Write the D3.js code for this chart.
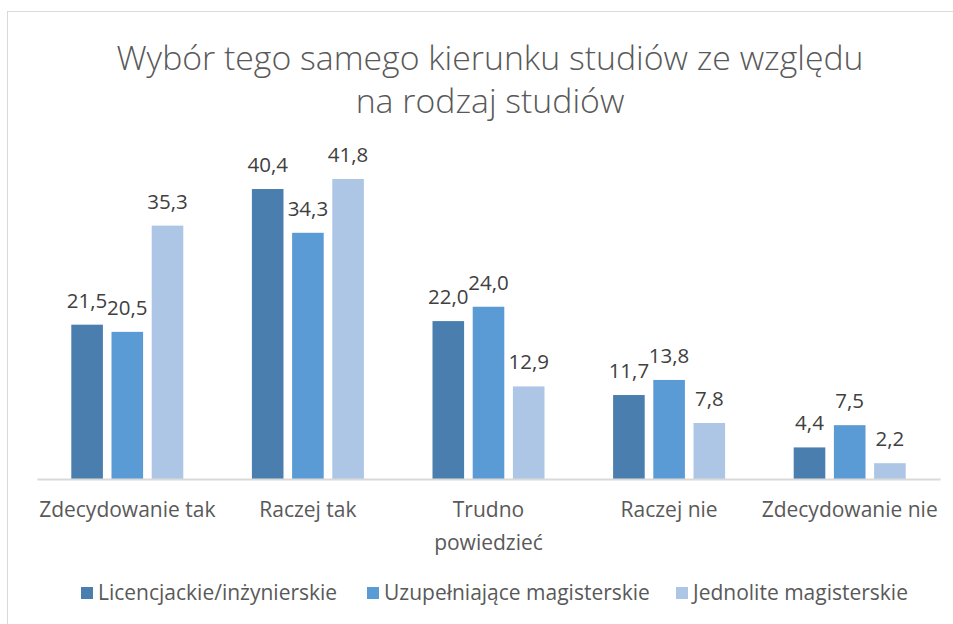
<!doctype html>
<html>
<head>
<meta charset="utf8">
<title>Wybór tego samego kierunku studiów</title>
<script src="https://cdn.jsdelivr.net/npm/d3@7"></script>
<style>
    body { margin: 0; background: #fff; }
    text { font-family: "Open Sans", Lato, sans-serif; fill: #595959; }
</style>
</head>
<body>
<div id="chart"></div>
<script>
"use strict";
// data
const categories = ["Zdecydowanie tak", "Raczej tak", "Trudno powiedzieć", "Raczej nie", "Zdecydowanie nie"];
const tickLabels = [["Zdecydowanie tak"], ["Raczej tak"], ["Trudno", "powiedzieć"], ["Raczej nie"], ["Zdecydowanie nie"]];
const seriesNames = ["Licencjackie/inżynierskie", "Uzupełniające magisterskie", "Jednolite magisterskie"];
const licencjackie = [21.5, 40.4, 22.0, 11.7, 4.4];
const uzupelniajace = [20.5, 34.3, 24.0, 13.8, 7.5];
const jednolite = [35.3, 41.8, 12.9, 7.8, 2.2];
const colors = ["#4a7eae", "#5b9bd5", "#adc6e5"];
const titleLines = ["Wybór tego samego kierunku studiów ze względu", "na rodzaj studiów"];

const seriesValues = [licencjackie, uzupelniajace, jednolite];
const W = 953, H = 624;

const svg = d3.select("#chart").append("svg")
    .attr("width", W)
    .attr("height", H);

// chart frame (only top and left edges visible in the crop)
svg.append("rect")
    .attr("x", 7.5).attr("y", 11.5)
    .attr("width", W + 20).attr("height", H + 20)
    .attr("fill", "none")
    .attr("stroke", "#d9d9d9");

// title
svg.append("g").selectAll("text")
    .data(titleLines)
    .enter().append("text")
    .attr("x", 490)
    .attr("y", (d, i) => 70 + i * 43)
    .attr("text-anchor", "middle")
    .style("font-size", "33.8px")
    .style("font-weight", 300)
    .text(d => d);

const x0 = d3.scaleBand()
    .domain(categories)
    .range([37, 940]);

const x1 = d3.scaleBand()
    .domain(seriesNames)
    .range([x0.bandwidth() / 2 - 56, x0.bandwidth() / 2 + 56])
    .paddingInner(0.214);

const y = d3.scaleLinear()
    .domain([0, 45])
    .range([479, 156]);

const groups = svg.append("g").selectAll("g")
    .data(categories)
    .enter().append("g")
    .attr("transform", d => "translate(" + x0(d) + ",0)");

const bars = groups.selectAll("g")
    .data((c, ci) => seriesNames.map((s, si) => ({ s: s, si: si, v: seriesValues[si][ci] })))
    .enter().append("g");

bars.append("rect")
    .attr("x", d => x1(d.s))
    .attr("y", d => y(d.v))
    .attr("width", x1.bandwidth())
    .attr("height", d => y(0) - y(d.v))
    .attr("fill", d => colors[d.si]);

bars.append("text")
    .attr("x", d => x1(d.s) + x1.bandwidth() / 2)
    .attr("y", d => y(d.v) - 17)
    .attr("text-anchor", "middle")
    .style("font-size", "20.5px")
    .style("fill", "#404040")
    .text(d => d3.format(".1f")(d.v).replace(".", ","));

// x axis
const xAxis = d3.axisBottom(x0).tickSize(0).tickSizeOuter(0).tickFormat("");
const axisG = svg.append("g")
    .attr("transform", "translate(0," + y(0) + ")")
    .call(xAxis);
axisG.select(".domain").attr("stroke", "#d9d9d9").attr("stroke-width", 2);

svg.append("g").selectAll("text")
    .data(categories)
    .enter().append("text")
    .attr("x", d => x0(d) + x0.bandwidth() / 2)
    .attr("y", 517)
    .attr("text-anchor", "middle")
    .style("font-size", "21px")
    .each(function(d, i) {
        d3.select(this).selectAll("tspan")
            .data(tickLabels[i])
            .enter().append("tspan")
            .attr("x", x0(d) + x0.bandwidth() / 2)
            .attr("dy", (t, j) => j === 0 ? 0 : 33)
            .text(t => t);
    });

// legend
const legendX = [81, 367, 676];
const legend = svg.append("g").selectAll("g")
    .data(seriesNames)
    .enter().append("g")
    .attr("transform", (d, i) => "translate(" + legendX[i] + ",587)");

legend.append("rect")
    .attr("width", 12).attr("height", 12)
    .attr("fill", (d, i) => colors[i]);

legend.append("text")
    .attr("x", 17)
    .attr("y", 13)
    .style("font-size", "21px")
    .text(d => d);
</script>
</body>
</html>
